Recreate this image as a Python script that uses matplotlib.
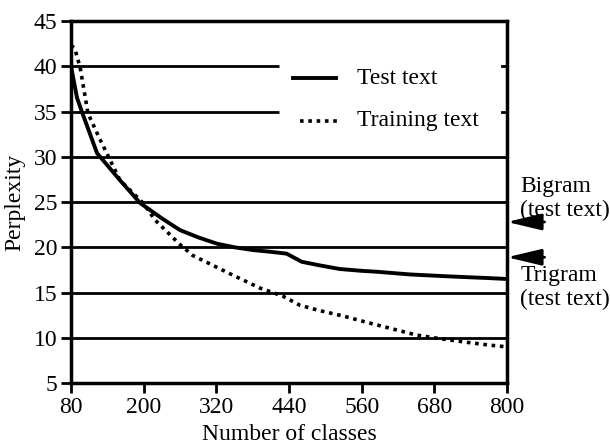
import matplotlib
matplotlib.use("Agg")
import matplotlib.pyplot as plt

plt.rcParams["font.family"] = ["Liberation Serif", "DejaVu Serif"]

# data
test_x = [80, 90, 100, 123, 161, 194, 230, 260, 290, 321, 350, 380, 410, 436, 461, 491, 524, 560, 585, 640, 700, 734, 770, 800]
test_y = [40.0, 36.5, 34.6, 30.4, 27.4, 24.9, 23.2, 21.9, 21.1, 20.4, 20.0, 19.7, 19.5, 19.3, 18.4, 18.0, 17.6, 17.4, 17.3, 17.0, 16.8, 16.7, 16.6, 16.5]

train_x = [80, 86, 95, 108, 128, 161, 199, 219, 260, 281, 348, 392, 430, 458, 491, 530, 569, 610, 651, 690, 734, 770, 800]
train_y = [42.3, 42.0, 39.9, 34.8, 31.9, 27.4, 24.9, 23.0, 20.3, 19.1, 16.9, 15.5, 14.6, 13.6, 13.0, 12.4, 11.7, 11.0, 10.3, 9.9, 9.5, 9.2, 9.0]

bigram_y = 22.8
trigram_y = 18.9

xticks = [80, 200, 320, 440, 560, 680, 800]
yticks = [5, 10, 15, 20, 25, 30, 35, 40, 45]

FS = 17

fig = plt.figure(figsize=(6.10, 4.47), dpi=100)
ax = fig.add_axes([0.1164, 0.143, 0.7148, 0.810])

# horizontal grid lines (upper two stop short of the legend)
for y in [10, 15, 20, 25, 30]:
    ax.axhline(y, color="black", lw=2.0, zorder=1)
for y in [35, 40]:
    ax.hlines(y, 80, 423, color="black", lw=2.0, zorder=1)

ax.plot(test_x, test_y, color="black", lw=2.8, zorder=3)
ax.plot(train_x, train_y, color="black", lw=2.6, ls=(0, (1, 1.3)), zorder=3)

# legend drawn by hand
ax.plot([447, 518], [38.7, 38.7], color="black", lw=2.8)
ax.plot([458, 519], [34.0, 34.0], color="black", lw=2.6, ls=(0, (1, 1.3)))
ax.text(552, 38.7, "Test text", fontsize=FS, va="center")
ax.text(552, 34.0, "Training text", fontsize=FS, va="center")

ax.set_xlim(80, 800)
ax.set_ylim(5, 45)
ax.set_xticks(xticks)
ax.set_yticks(yticks)
ax.tick_params(axis="both", labelsize=FS, width=2, length=7, direction="out", pad=3)
for side in ax.spines.values():
    side.set_linewidth(2.5)

ax.set_xlabel("Number of classes", fontsize=FS, labelpad=4)
ax.set_ylabel("Perplexity", fontsize=FS, labelpad=6)

# right-side ticks at 35 and 40
for y in [35, 40]:
    ax.plot([792, 800], [y, y], color="black", lw=2)

# bigram / trigram arrows
for y in [bigram_y, trigram_y]:
    ax.annotate("", xy=(800, y), xytext=(862, y), xycoords="data",
                arrowprops=dict(arrowstyle="-|>,head_length=2.1,head_width=0.5",
                                color="black", lw=2, shrinkA=0, shrinkB=0),
                annotation_clip=False)
ax.text(822, 26.7, "Bigram", fontsize=FS, va="center")
ax.text(822, 24.1, "(test text)", fontsize=FS, va="center")
ax.text(822, 16.9, "Trigram", fontsize=FS, va="center")
ax.text(822, 14.2, "(test text)", fontsize=FS, va="center")

fig.savefig("out.png", dpi=100)
